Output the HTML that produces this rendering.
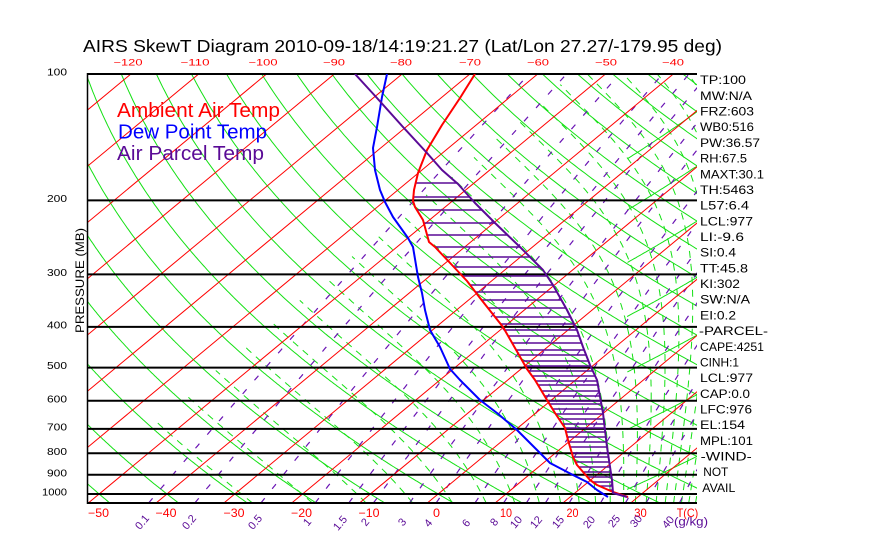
<!DOCTYPE html>
<html><head><meta charset="utf-8"><style>
html,body{margin:0;padding:0;background:#fff;}
svg{display:block;font-family:"Liberation Sans",sans-serif;}
</style></head><body>
<svg id="s" width="870" height="560" xmlns="http://www.w3.org/2000/svg">
<defs><clipPath id="c"><rect x="87" y="74" width="610" height="429"/></clipPath></defs>
<rect width="870" height="560" fill="#fff"/>
<g clip-path="url(#c)">
<g id="dry"></g>
<g id="moist"></g>
<g id="mix"></g>
<g id="iso"></g>
</g>
<g stroke="#000" stroke-width="2">
<line x1="87" y1="74" x2="697" y2="74"/>
<line x1="87" y1="200.4" x2="697" y2="200.4"/>
<line x1="87" y1="274.4" x2="697" y2="274.4"/>
<line x1="87" y1="326.9" x2="697" y2="326.9"/>
<line x1="87" y1="367.6" x2="697" y2="367.6"/>
<line x1="87" y1="400.8" x2="697" y2="400.8"/>
<line x1="87" y1="428.9" x2="697" y2="428.9"/>
<line x1="87" y1="453.3" x2="697" y2="453.3"/>
<line x1="87" y1="474.8" x2="697" y2="474.8"/>
<line x1="87" y1="494" x2="697" y2="494"/>
<line x1="87" y1="503" x2="697" y2="503"/>
</g>
<line x1="87.5" y1="73" x2="87.5" y2="504" stroke="#000" stroke-width="1.5"/>
<g id="hatch" clip-path="url(#c)"></g>
<g fill="none" stroke-width="2" stroke-linejoin="round" clip-path="url(#c)">
<polyline id="tl" stroke="#ff0000" points="475,74 460,98 442,125 427,150 418,173 414,190 413,201 415,207 423,220 429,242 435,247 452,265 467,281 480,298 503,327 527,369 535,380 547,400 555,413 565,428 568,440 573,457 577,465 590,480 597,485 613,492 628,497"/>
<polyline stroke="#0000ff" points="387,74 382,97 377,127 373,148 375,170 380,190 385,202 393,217 408,238 413,247 418,277 422,293 425,310 430,330 440,347 450,369 460,380 480,400 497,413 517,430 537,450 550,463 573,475 587,482 597,490 608,497"/>
<polyline id="pl" stroke="#5a0a96" points="355,74 377,98 403,127 427,153 442,170 458,184 475,203 495,223 520,247 543,270 553,285 567,310 577,330 583,347 590,365 597,380 603,413 607,447 612,480 613,493 627,497"/>
</g>

<text x="83" y="52" font-size="17.5" textLength="639" lengthAdjust="spacingAndGlyphs" fill="#000">AIRS SkewT Diagram 2010-09-18/14:19:21.27 (Lat/Lon 27.27/-179.95 deg)</text>

<g fill="#ff0000" font-size="9" text-anchor="middle">
<text x="128" y="65.3" textLength="29" lengthAdjust="spacingAndGlyphs">−120</text>
<text x="195" y="65.3" textLength="29" lengthAdjust="spacingAndGlyphs">−110</text>
<text x="263" y="65.3" textLength="29" lengthAdjust="spacingAndGlyphs">−100</text>
<text x="334" y="65.3" textLength="22" lengthAdjust="spacingAndGlyphs">−90</text>
<text x="401" y="65.3" textLength="22" lengthAdjust="spacingAndGlyphs">−80</text>
<text x="470" y="65.3" textLength="22" lengthAdjust="spacingAndGlyphs">−70</text>
<text x="538" y="65.3" textLength="22" lengthAdjust="spacingAndGlyphs">−60</text>
<text x="606" y="65.3" textLength="22" lengthAdjust="spacingAndGlyphs">−50</text>
<text x="673" y="65.3" textLength="22" lengthAdjust="spacingAndGlyphs">−40</text>
</g>

<g fill="#000" font-size="10.5" text-anchor="end">
<text x="67" y="75.5" textLength="20" lengthAdjust="spacingAndGlyphs">100</text>
<text x="67" y="202" textLength="20" lengthAdjust="spacingAndGlyphs">200</text>
<text x="67" y="276" textLength="20" lengthAdjust="spacingAndGlyphs">300</text>
<text x="67" y="328.5" textLength="20" lengthAdjust="spacingAndGlyphs">400</text>
<text x="67" y="369" textLength="20" lengthAdjust="spacingAndGlyphs">500</text>
<text x="67" y="402.3" textLength="20" lengthAdjust="spacingAndGlyphs">600</text>
<text x="67" y="430.5" textLength="20" lengthAdjust="spacingAndGlyphs">700</text>
<text x="67" y="455" textLength="20" lengthAdjust="spacingAndGlyphs">800</text>
<text x="67" y="476.3" textLength="20" lengthAdjust="spacingAndGlyphs">900</text>
<text x="67" y="495.5" textLength="25" lengthAdjust="spacingAndGlyphs">1000</text>
</g>
<text transform="translate(84,333) rotate(-90)" x="0" y="0" font-size="11.6" fill="#000" textLength="105" lengthAdjust="spacingAndGlyphs">PRESSURE (MB)</text>

<text x="117" y="117" font-size="20" fill="#ff0000" textLength="163" lengthAdjust="spacingAndGlyphs">Ambient Air Temp</text>
<text x="118" y="138.5" font-size="20" fill="#0000ff" textLength="149" lengthAdjust="spacingAndGlyphs">Dew Point Temp</text>
<text x="117" y="160" font-size="20" fill="#5a0a96" textLength="147" lengthAdjust="spacingAndGlyphs">Air Parcel Temp</text>

<g fill="#000" font-size="11.6">
<text x="700" y="84.2" textLength="46" lengthAdjust="spacingAndGlyphs">TP:100</text>
<text x="700" y="99.9" textLength="52" lengthAdjust="spacingAndGlyphs">MW:N/A</text>
<text x="700" y="115.6" textLength="54" lengthAdjust="spacingAndGlyphs">FRZ:603</text>
<text x="700" y="131.2" textLength="54" lengthAdjust="spacingAndGlyphs">WB0:516</text>
<text x="700" y="146.9" textLength="60" lengthAdjust="spacingAndGlyphs">PW:36.57</text>
<text x="700" y="162.6" textLength="47" lengthAdjust="spacingAndGlyphs">RH:67.5</text>
<text x="700" y="178.3" textLength="64" lengthAdjust="spacingAndGlyphs">MAXT:30.1</text>
<text x="700" y="194" textLength="54" lengthAdjust="spacingAndGlyphs">TH:5463</text>
<text x="700" y="209.6" textLength="49" lengthAdjust="spacingAndGlyphs">L57:6.4</text>
<text x="700" y="225.3" textLength="53" lengthAdjust="spacingAndGlyphs">LCL:977</text>
<text x="700" y="241" textLength="44" lengthAdjust="spacingAndGlyphs">LI:-9.6</text>
<text x="700" y="256.7" textLength="36" lengthAdjust="spacingAndGlyphs">SI:0.4</text>
<text x="700" y="272.4" textLength="48" lengthAdjust="spacingAndGlyphs">TT:45.8</text>
<text x="700" y="288" textLength="40" lengthAdjust="spacingAndGlyphs">KI:302</text>
<text x="700" y="303.7" textLength="50" lengthAdjust="spacingAndGlyphs">SW:N/A</text>
<text x="700" y="319.4" textLength="36" lengthAdjust="spacingAndGlyphs">EI:0.2</text>
<text x="699" y="335.1" textLength="69" lengthAdjust="spacingAndGlyphs">-PARCEL-</text>
<text x="700" y="350.8" textLength="64" lengthAdjust="spacingAndGlyphs">CAPE:4251</text>
<text x="700" y="366.4" textLength="39" lengthAdjust="spacingAndGlyphs">CINH:1</text>
<text x="700" y="382.1" textLength="53" lengthAdjust="spacingAndGlyphs">LCL:977</text>
<text x="700" y="397.8" textLength="50" lengthAdjust="spacingAndGlyphs">CAP:0.0</text>
<text x="700" y="413.5" textLength="52" lengthAdjust="spacingAndGlyphs">LFC:976</text>
<text x="700" y="429.2" textLength="45" lengthAdjust="spacingAndGlyphs">EL:154</text>
<text x="700" y="444.8" textLength="53" lengthAdjust="spacingAndGlyphs">MPL:101</text>
<text x="700.7" y="460.5" textLength="51" lengthAdjust="spacingAndGlyphs">-WIND-</text>
<text x="703.3" y="476.2" textLength="25" lengthAdjust="spacingAndGlyphs">NOT</text>
<text x="702.3" y="491.9" textLength="33" lengthAdjust="spacingAndGlyphs">AVAIL</text>
</g>

<g fill="#ff0000" font-size="11.6" text-anchor="middle">
<text x="98.5" y="517" textLength="21" lengthAdjust="spacingAndGlyphs">−50</text>
<text x="166" y="517" textLength="21" lengthAdjust="spacingAndGlyphs">−40</text>
<text x="234" y="517" textLength="21" lengthAdjust="spacingAndGlyphs">−30</text>
<text x="301.5" y="517" textLength="21" lengthAdjust="spacingAndGlyphs">−20</text>
<text x="369" y="517" textLength="21" lengthAdjust="spacingAndGlyphs">−10</text>
<text x="436.5" y="517" textLength="7" lengthAdjust="spacingAndGlyphs">0</text>
<text x="506" y="517" textLength="12" lengthAdjust="spacingAndGlyphs">10</text>
<text x="572.5" y="517" textLength="12" lengthAdjust="spacingAndGlyphs">20</text>
<text x="640.5" y="517" textLength="12.5" lengthAdjust="spacingAndGlyphs">30</text>
</g>
<text x="676.7" y="517" font-size="11.6" fill="#ff0000" textLength="21.6" lengthAdjust="spacingAndGlyphs">T(C)</text>

<g fill="#5a0a96" font-size="11" text-anchor="middle">
<text transform="translate(142,522) rotate(-50)" y="3.8">0.1</text>
<text transform="translate(189,522) rotate(-50)" y="3.8">0.2</text>
<text transform="translate(255,522) rotate(-50)" y="3.8">0.5</text>
<text transform="translate(307,522) rotate(-50)" y="3.8">1</text>
<text transform="translate(340,523) rotate(-50)" y="3.8">1.5</text>
<text transform="translate(365,522) rotate(-50)" y="3.8">2</text>
<text transform="translate(402,522) rotate(-50)" y="3.8">3</text>
<text transform="translate(428,523) rotate(-50)" y="3.8">4</text>
<text transform="translate(466,523) rotate(-50)" y="3.8">6</text>
<text transform="translate(494,522) rotate(-50)" y="3.8">8</text>
<text transform="translate(516,522) rotate(-50)" y="3.8">10</text>
<text transform="translate(536,522) rotate(-50)" y="3.8">12</text>
<text transform="translate(558,522) rotate(-50)" y="3.8">15</text>
<text transform="translate(589,522) rotate(-50)" y="3.8">20</text>
<text transform="translate(614,521) rotate(-50)" y="3.8">25</text>
<text transform="translate(636,521) rotate(-50)" y="3.8">30</text>
<text transform="translate(668,522) rotate(-50)" y="3.8">40</text>
</g>
<text x="674" y="525.5" font-size="11.6" fill="#5a0a96" textLength="34" lengthAdjust="spacingAndGlyphs">(g/kg)</text>
</svg>
<script>
(function(){
var NS='http://www.w3.org/2000/svg';
function Y(p){return 74+182.4*Math.log(p/100);}
function X(T,y){return 427.3+6.78*T+1.2056*(503-y);}
function mk(parent,d,stroke,w,dash){var e=document.createElementNS(NS,'path');e.setAttribute('d',d);e.setAttribute('fill','none');e.setAttribute('stroke',stroke);e.setAttribute('stroke-width',w);if(dash)e.setAttribute('stroke-dasharray',dash);parent.appendChild(e);return e;}
function ptsToD(pts){var s='';for(var i=0;i<pts.length;i++){s+=(i?'L':'M')+pts[i][0].toFixed(1)+' '+pts[i][1].toFixed(1);}return s;}
var GREEN='#14e014';
var dry=document.getElementById('dry');
for(var th=-60;th<=200;th+=10){
  var pts=[];
  for(var p=1050;p>=99.9;p-=2.5){var T=(th+273.15)*Math.pow(p/1000,0.286)-273.15;var y=Y(p);pts.push([X(T,y),y]);}
  mk(dry,ptsToD(pts),GREEN,1);
}
for(var th2=50;th2<=170;th2+=20){
  var arm=[],started=false;
  for(var p2=100;p2<=1050;p2+=1){
    var T2=(th2+273.15)*Math.pow(p2/1000,0.286)-273.15;var y2=Y(p2);var x2=X(T2,y2);
    if(!started){ if(x2>697){started=true;arm.push([697,y2]);} }
    else { var xm=1394-x2; if(xm<627)break; arm.push([xm,y2]); }
  }
  if(arm.length>1)mk(dry,ptsToD(arm),GREEN,1);
}
function es(T){var t=T-273.15;return 6.112*Math.exp(17.67*t/(t+243.5));}
function rs(T,p){var e=es(T);return 0.622*e/(p-e);}
function dTdp(T,p){var r=rs(T,p),Rd=287.04,Lv=2.501e6,cp=1005.7,eps=0.622;return (Rd*T+Lv*r)/(p*(cp+Lv*Lv*r*eps/(Rd*T*T)));}
function thes(T){return T*Math.exp(2.501e6*rs(T,1000)/(1005.7*T));}
var moist=document.getElementById('moist');
var TCUT=273.15-55;
for(var te=245;te<=465;te+=10){
  var lo=200,hi=320;
  for(var k=0;k<60;k++){var mid=(lo+hi)/2;if(thes(mid)<te)lo=mid;else hi=mid;}
  var T0=(lo+hi)/2;
  var down=[],T=T0,p=1000,dp;
  dp=2;while(p<1050){var k1=dTdp(T,p);var k2=dTdp(T+k1*dp,p+dp);T+=0.5*(k1+k2)*dp;p+=dp;down.push([p,T]);}
  var up=[];T=T0;p=1000;dp=-2;
  while(p>100){var a1=dTdp(T,p);var a2=dTdp(T+a1*dp,p+dp);T+=0.5*(a1+a2)*dp;p+=dp;if(T<TCUT)break;up.push([p,T]);}
  var all=[];
  for(var i=down.length-1;i>=0;i--)all.push(down[i]);
  if(T0>=TCUT)all.push([1000,T0]);
  for(var j=0;j<up.length;j++)all.push(up[j]);
  if(all.length<2)continue;
  var pts2=all.map(function(q){var y=Y(q[0]);return [X(q[1]-273.15,y),y];});
  mk(moist,ptsToD(pts2),GREEN,1,'7,6');
}
var mix=document.getElementById('mix');
var ws=[0.1,0.2,0.5,1,1.5,2,3,4,6,8,10,12,15,20,25,30,40];
for(var m=0;m<ws.length;m++){
  var w=ws[m]/1000,pts3=[];
  for(var pp=1050;pp>=99.9;pp-=5){var e=w*pp/(0.622+w);var L=Math.log(e/6.112);var Tc=243.5*L/(17.67-L);var yy=Y(pp);pts3.push([X(Tc,yy),yy]);}
  mk(mix,ptsToD(pts3),'#6a14b4',1.2,'6,12');
}
var iso=document.getElementById('iso');
for(var t=-130;t<=40;t+=10){
  mk(iso,'M'+(427.3+6.78*t).toFixed(1)+' 503L'+(944.5+6.78*t).toFixed(1)+' 74','#ff0000',1);
}
function parse(id){return document.getElementById(id).getAttribute('points').trim().split(/\s+/).map(function(s){var a=s.split(',');return [+a[0],+a[1]];});}
function interp(pl,y){for(var i=0;i<pl.length-1;i++){var a=pl[i],b=pl[i+1];if((y>=a[1]&&y<=b[1])){var f=(b[1]-a[1])?(y-a[1])/(b[1]-a[1]):0;return a[0]+f*(b[0]-a[0]);}}return null;}
var red=parse('tl'),pur=parse('pl');
var hy=[183,197,210,223,235,247,257,267,276,285,292,300,308,317,324,330,336,343,350,355,361,366,371,376,381,385,391,396,401,404,409,414,419,424,428,432,437,442,447,453,457,462,467,472,477,482,486,490,494];
var hg=document.getElementById('hatch');
for(var h=0;h<hy.length;h++){
  var xr=interp(red,hy[h]),xp=interp(pur,hy[h]);
  if(xr!==null&&xp!==null&&xp>xr+1){mk(hg,'M'+xr.toFixed(1)+' '+hy[h]+'L'+xp.toFixed(1)+' '+hy[h],'#5a0a96',1.4);}
}
})();
</script>
</body></html>
